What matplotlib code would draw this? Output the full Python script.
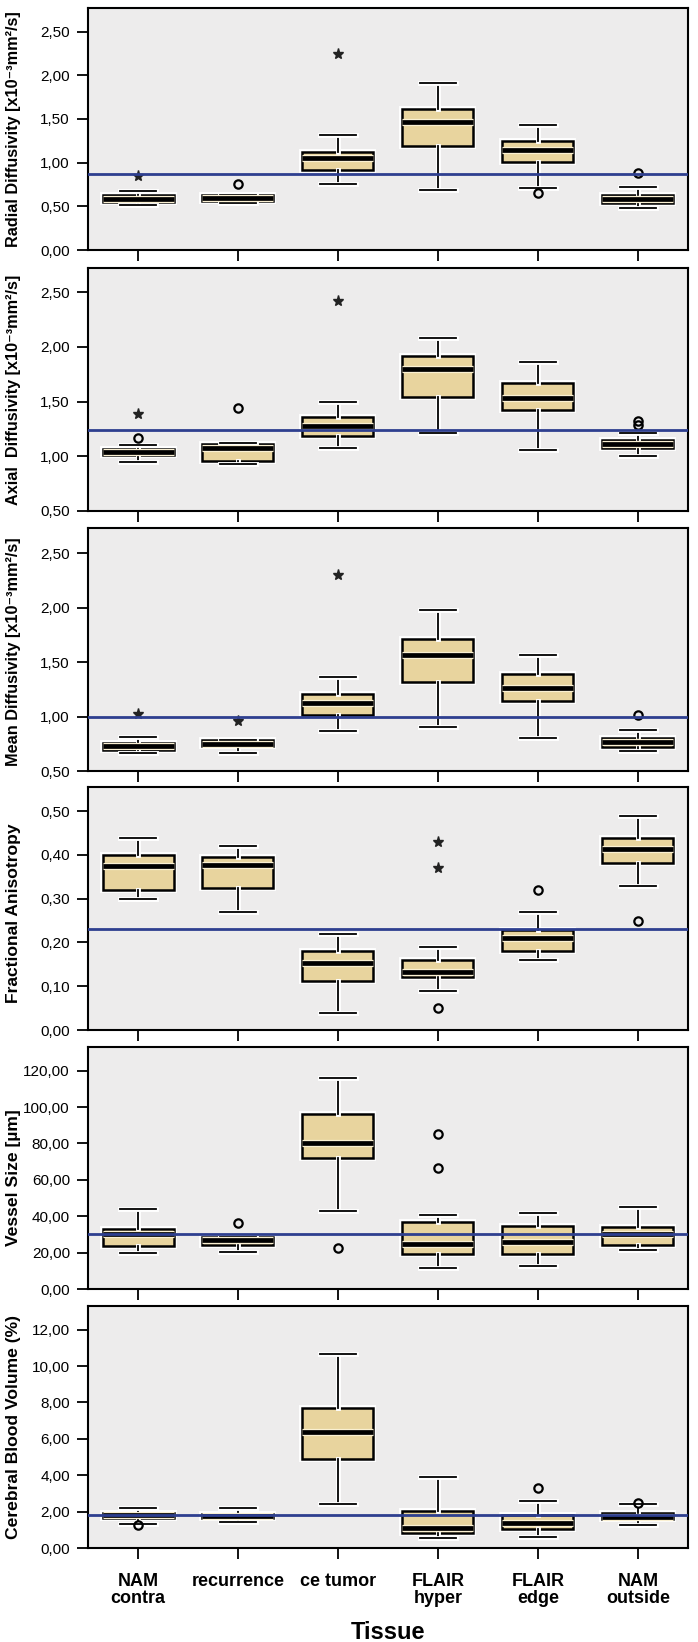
import matplotlib
matplotlib.use('Agg')
import matplotlib.pyplot as plt
import matplotlib.patheffects as pe
from matplotlib.ticker import FuncFormatter, MultipleLocator

plt.rcParams['font.family'] = ['Liberation Sans', 'DejaVu Sans']

tissues = ['NAM\ncontra', 'recurrence', 'ce tumor', 'FLAIR\nhyper', 'FLAIR\nedge', 'NAM\noutside']

# Radial diffusivity
rd_whislo = [0.51, 0.54, 0.76, 0.69, 0.71, 0.485]
rd_q1 = [0.553, 0.565, 0.916, 1.195, 1.008, 0.538]
rd_med = [0.584, 0.59, 1.053, 1.46, 1.141, 0.588]
rd_q3 = [0.626, 0.626, 1.122, 1.61, 1.248, 0.626]
rd_whishi = [0.68, 0.626, 1.317, 1.916, 1.427, 0.72]
rd_circ_x = [2, 5, 6]
rd_circ_y = [0.76, 0.656, 0.88]
rd_star_x = [1, 3]
rd_star_y = [0.843, 2.24]
rd_ref = 0.87

# Axial diffusivity
ad_whislo = [0.945, 0.933, 1.076, 1.21, 1.058, 1.0]
ad_q1 = [1.01, 0.954, 1.188, 1.544, 1.42, 1.076]
ad_med = [1.036, 1.073, 1.277, 1.80, 1.535, 1.115]
ad_q3 = [1.07, 1.112, 1.356, 1.912, 1.666, 1.146]
ad_whishi = [1.10, 1.12, 1.498, 2.085, 1.863, 1.213]
ad_circ_x = [1, 2, 6, 6]
ad_circ_y = [1.17, 1.44, 1.322, 1.289]
ad_star_x = [1, 3]
ad_star_y = [1.39, 2.416]
ad_ref = 1.24

# Mean diffusivity
md_whislo = [0.667, 0.667, 0.868, 0.908, 0.80, 0.688]
md_q1 = [0.697, 0.728, 1.012, 1.32, 1.144, 0.72]
md_med = [0.725, 0.752, 1.128, 1.569, 1.266, 0.765]
md_q3 = [0.755, 0.78, 1.211, 1.713, 1.388, 0.80]
md_whishi = [0.81, 0.78, 1.367, 1.98, 1.566, 0.88]
md_circ_x = [6]
md_circ_y = [1.01]
md_star_x = [1, 2, 3]
md_star_y = [1.02, 0.957, 2.30]
md_ref = 1.0

# Fractional anisotropy
fa_whislo = [0.30, 0.269, 0.039, 0.089, 0.161, 0.33]
fa_q1 = [0.32, 0.325, 0.111, 0.12, 0.18, 0.381]
fa_med = [0.375, 0.376, 0.153, 0.132, 0.211, 0.413]
fa_q3 = [0.40, 0.394, 0.18, 0.161, 0.228, 0.439]
fa_whishi = [0.439, 0.42, 0.22, 0.189, 0.269, 0.489]
fa_circ_x = [4, 5, 6]
fa_circ_y = [0.05, 0.32, 0.25]
fa_star_x = [4, 4]
fa_star_y = [0.43, 0.369]
fa_ref = 0.23

# Vessel size
vs_whislo = [19.8, 20.6, 42.6, 11.7, 12.5, 21.3]
vs_q1 = [23.9, 24.0, 72.1, 19.3, 19.3, 24.4]
vs_med = [30.0, 26.8, 80.2, 24.8, 25.7, 30.0]
vs_q3 = [33.2, 28.6, 96.0, 36.7, 34.5, 33.9]
vs_whishi = [43.9, 28.6, 116.1, 40.6, 42.0, 45.3]
vs_circ_x = [2, 3, 4, 4]
vs_circ_y = [36.1, 22.4, 85.0, 66.4]
vs_star_x = []
vs_star_y = []
vs_ref = 30.3

# Cerebral blood volume
cbv_whislo = [1.34, 1.45, 2.40, 0.53, 0.61, 1.28]
cbv_q1 = [1.67, 1.67, 4.88, 0.81, 1.06, 1.60]
cbv_med = [1.80, 1.76, 6.35, 1.10, 1.38, 1.69]
cbv_q3 = [1.91, 1.85, 7.67, 2.06, 1.83, 1.91]
cbv_whishi = [2.22, 2.22, 10.68, 3.89, 2.60, 2.40]
cbv_circ_x = [1, 5, 6]
cbv_circ_y = [1.27, 3.28, 2.48]
cbv_star_x = []
cbv_star_y = []
cbv_ref = 1.83

panels = [
    ('Radial Diffusivity [x10\u207b\u00b3mm\u00b2/s]', rd_whislo, rd_q1, rd_med, rd_q3, rd_whishi,
     rd_circ_x, rd_circ_y, rd_star_x, rd_star_y, rd_ref, (0, 2.77), 0.5),
    ('Axial  Diffusivity [x10\u207b\u00b3mm\u00b2/s]', ad_whislo, ad_q1, ad_med, ad_q3, ad_whishi,
     ad_circ_x, ad_circ_y, ad_star_x, ad_star_y, ad_ref, (0.5, 2.72), 0.5),
    ('Mean Diffusivity [x10\u207b\u00b3mm\u00b2/s]', md_whislo, md_q1, md_med, md_q3, md_whishi,
     md_circ_x, md_circ_y, md_star_x, md_star_y, md_ref, (0.5, 2.73), 0.5),
    ('Fractional Anisotropy', fa_whislo, fa_q1, fa_med, fa_q3, fa_whishi,
     fa_circ_x, fa_circ_y, fa_star_x, fa_star_y, fa_ref, (0, 0.555), 0.1),
    ('Vessel Size [\u00b5m]', vs_whislo, vs_q1, vs_med, vs_q3, vs_whishi,
     vs_circ_x, vs_circ_y, vs_star_x, vs_star_y, vs_ref, (0, 133), 20),
    ('Cerebral Blood Volume (%)', cbv_whislo, cbv_q1, cbv_med, cbv_q3, cbv_whishi,
     cbv_circ_x, cbv_circ_y, cbv_star_x, cbv_star_y, cbv_ref, (0, 13.3), 2),
]

# panel frames in pixels from the top (top, bottom), y-label centre (axes units) and size
frames = [(8, 250), (268, 511), (528, 771), (787, 1030), (1047, 1289), (1306, 1548)]
label_y = [0.5, 0.5, 0.49, 0.48, 0.46, 0.5]
label_size = [11.7, 11.7, 11.7, 12.6, 12.6, 12.6]
W, H = 698, 1642

box_color = '#E8D49E'
ref_color = '#2E3F8F'
bg_color = '#EDECEC'
halo = [pe.withStroke(linewidth=3.5, foreground='white')]

fig = plt.figure(figsize=(W / 100, H / 100), dpi=100)
fmt = FuncFormatter(lambda v, p: f'{v:.2f}'.replace('.', ','))

for i, (label, wlo, q1, med, q3, whi, cx, cy, sx, sy, ref, ylim, step) in enumerate(panels):
    top, bot = frames[i]
    ax = fig.add_axes([88 / W, 1 - bot / H, 600 / W, (bot - top) / H])
    ax.set_facecolor(bg_color)
    stats = []
    for k in range(6):
        fl = [cy[j] for j in range(len(cx)) if cx[j] == k + 1]
        stats.append(dict(whislo=wlo[k], q1=q1[k], med=med[k], q3=q3[k], whishi=whi[k], fliers=fl))
    bp = ax.bxp(stats, positions=range(1, 7), widths=0.71, capwidths=0.365,
                patch_artist=True,
                boxprops=dict(facecolor=box_color, edgecolor='black', linewidth=1.8),
                medianprops=dict(color='black', linewidth=3.4),
                whiskerprops=dict(color='black', linewidth=1.3),
                capprops=dict(color='black', linewidth=1.3),
                flierprops=dict(marker='o', markerfacecolor='none', markeredgecolor='black',
                                markersize=6, markeredgewidth=1.6))
    for art in bp['whiskers'] + bp['caps']:
        art.set_path_effects(halo)
    for b in bp['boxes']:
        b.set_path_effects([pe.withStroke(linewidth=4.2, foreground='white')])
    for m in bp['medians']:
        m.set_path_effects([pe.withStroke(linewidth=5.2, foreground='#FAF0D2')])
    if sx:
        ax.plot(sx, sy, '*', color='#222222', markersize=8, linestyle='none')
    ax.axhline(ref, color=ref_color, linewidth=2, zorder=5)

    ax.set_xlim(0.5, 6.5)
    ax.set_ylim(*ylim)
    ax.yaxis.set_major_locator(MultipleLocator(step))
    ax.yaxis.set_major_formatter(fmt)
    ax.set_xticks(range(1, 7))
    ax.tick_params(direction='out', length=8, width=1.3, labelsize=11, pad=5)
    for s in ax.spines.values():
        s.set_linewidth(1.5)
    ax.set_ylabel(label, fontsize=label_size[i], fontweight='bold')
    ax.yaxis.set_label_coords(-0.112, label_y[i])
    if i < 5:
        ax.set_xticklabels([])
    else:
        ax.set_xticklabels(tissues, fontsize=13, fontweight='bold', linespacing=1.0)
        ax.tick_params(axis='x', pad=10)
        ax.set_xlabel('Tissue', fontsize=17, fontweight='bold', labelpad=10)

fig.savefig('out.png', dpi=100, facecolor='white')
